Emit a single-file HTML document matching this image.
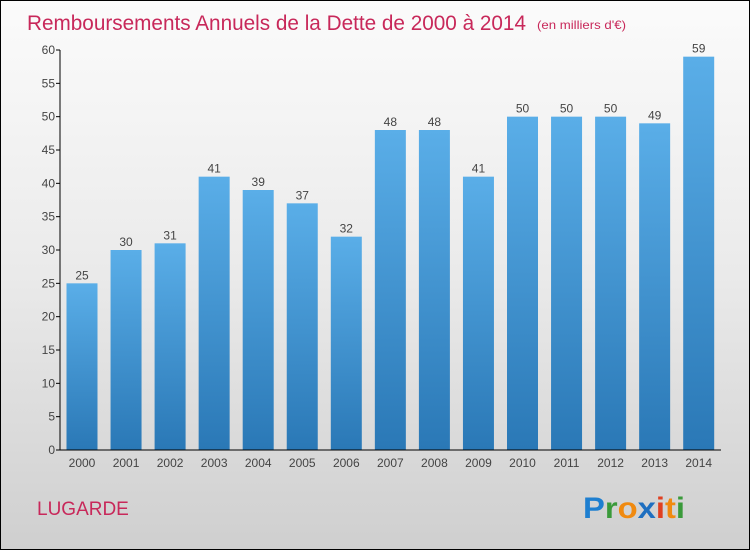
<!DOCTYPE html>
<html><head><meta charset="utf-8"><style>
body{margin:0}
#c{position:relative;width:748px;height:548px;border:1px solid #000;background:linear-gradient(#fbfbfb,#eaeaea 50%,#cfcfcf);font-family:"Liberation Sans",sans-serif;overflow:hidden}
</style></head><body>
<div id="c">
<svg id="s" width="748" height="548"></svg>
</div>
<script>
const years=["2000","2001","2002","2003","2004","2005","2006","2007","2008","2009","2010","2011","2012","2013","2014"];
const values=[25,30,31,41,39,37,32,48,48,41,50,50,50,49,59];
const yTicks=[0,5,10,15,20,25,30,35,40,45,50,55,60];
const NS="http://www.w3.org/2000/svg";
const s=document.getElementById('s');
function el(t,a,txt){const e=document.createElementNS(NS,t);for(const k in a)e.setAttribute(k,a[k]);if(txt!==undefined)e.textContent=txt;s.appendChild(e);return e;}
const y0=449,yTop=49,x0=59,step=44.05,bw=31;
const yS=v=>y0-(v/60)*(y0-yTop);
const xC=i=>81+i*step;
const defs=el('defs',{});
defs.innerHTML='<linearGradient id="g" x1="0" y1="0" x2="0" y2="1"><stop offset="0" stop-color="#5aaee8"/><stop offset="1" stop-color="#2a78b6"/></linearGradient>';
let t=el('text',{x:26,y:29,'font-size':21,fill:'#c8285a',textLength:499,lengthAdjust:'spacingAndGlyphs'},'Remboursements Annuels de la Dette de 2000 à 2014');

t=el('text',{x:536,y:28,'font-size':12,fill:'#c8285a',textLength:89,lengthAdjust:'spacingAndGlyphs'},'(en milliers d\'€)');

yTicks.forEach(v=>{
 const l=el('line',{x1:x0-4,x2:x0,y1:yS(v),y2:yS(v),stroke:'#000'});
 
 const tx=el('text',{x:x0-5,y:yS(v)+4,'font-size':12,fill:'#444','text-anchor':'end'},v);
 
});
values.forEach((v,i)=>{
 const r=el('rect',{x:xC(i)-bw/2,y:yS(v),width:bw,height:y0-yS(v),fill:'url(#g)'});
 
 const vl=el('text',{x:xC(i),y:yS(v)-4,'font-size':12,fill:'#444','text-anchor':'middle'},v);
 
 const xl=el('text',{x:xC(i),y:466,'font-size':12,fill:'#444','text-anchor':'middle'},years[i]);
 
});
let a=el('line',{x1:x0,x2:720,y1:y0,y2:y0,stroke:'#000'});

a=el('line',{x1:x0,x2:x0,y1:yTop,y2:y0,stroke:'#000'});

t=el('text',{x:36,y:514,'font-size':19,fill:'#c8285a'},'LUGARDE');

const logo=el('text',{x:582,y:517,'font-size':30,'font-weight':'bold',textLength:102,lengthAdjust:'spacingAndGlyphs'});

logo.innerHTML='<tspan fill="#1e7fd0">P</tspan><tspan fill="#3a9a3a">r</tspan><tspan fill="#f08a10">o</tspan><tspan fill="#1e6fc0">x</tspan><tspan fill="#e04020">i</tspan><tspan fill="#f08a10">t</tspan><tspan fill="#3a9a3a">i</tspan>';
</script>
</body></html>
